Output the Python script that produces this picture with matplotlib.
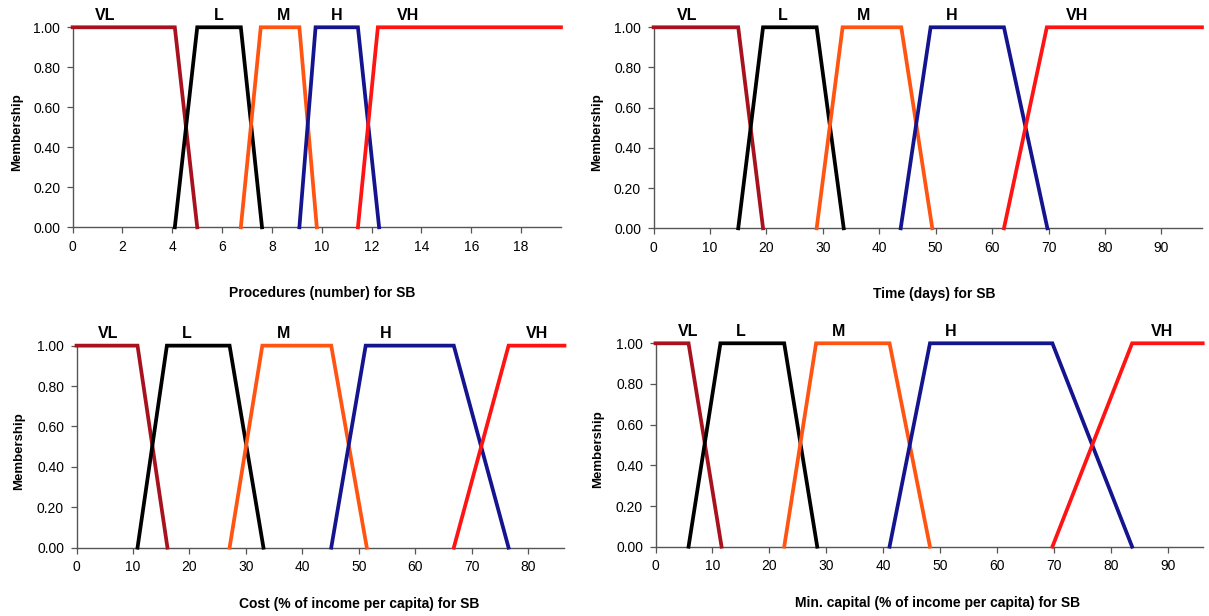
import matplotlib
matplotlib.use("Agg")
import matplotlib.pyplot as plt

plt.rcParams['font.family'] = ['Liberation Sans', 'DejaVu Sans']

categories = ['VL', 'L', 'M', 'H', 'VH']
colors = ['#a8121e', '#000000', '#ff5412', '#14148e', '#ff1414']

# membership levels at the breakpoints of each fuzzy set
mu_left = [1, 1, 0]
mu_mid = [0, 1, 1, 0]
mu_right = [0, 1, 1]

# breakpoints (x values)
proc_points = [[0, 4.1, 5.0], [4.1, 5.0, 6.75, 7.6], [6.75, 7.55, 9.1, 9.8],
               [9.1, 9.75, 11.45, 12.3], [11.45, 12.25, 19.6]]
time_points = [[0, 15, 19.4], [15, 19.4, 28.9, 33.7], [28.9, 33.5, 43.9, 49.4],
               [43.8, 49.1, 62.1, 69.8], [62.1, 69.7, 97.2]]
cost_points = [[0, 10.8, 16.1], [10.8, 16.0, 27.1, 33.1], [27.1, 32.9, 45.1, 51.4],
               [45.1, 51.2, 66.8, 76.5], [66.8, 76.5, 86.4]]
cap_points = [[0, 5.8, 11.6], [5.8, 11.4, 22.6, 28.4], [22.6, 28.2, 41.1, 48.2],
              [41.1, 48.2, 69.7, 83.7], [69.7, 83.7, 96.1]]

proc_ticks = list(range(0, 19, 2))
time_ticks = list(range(0, 91, 10))
cost_ticks = list(range(0, 81, 10))
cap_ticks = list(range(0, 91, 10))

# where the set names sit above each plateau
proc_lbl = [1.3, 5.85, 8.45, 10.6, 13.45]
time_lbl = [6.0, 22.9, 37.3, 52.8, 75.1]
cost_lbl = [5.6, 19.5, 36.7, 54.7, 81.6]
cap_lbl = [5.8, 15.0, 32.1, 51.8, 88.9]

fig = plt.figure(figsize=(12.09, 6.16), dpi=100)

panels = [
    ([0.0601, 0.631, 0.4039, 0.3247], proc_points, proc_ticks, proc_lbl, 19.6,
     'Procedures (number) for SB', (0.512, -0.293), -0.102),
    ([0.5406, 0.6294, 0.4536, 0.3263], time_points, time_ticks, time_lbl, 97.2,
     'Time (days) for SB', (0.511, -0.294), -0.092),
    ([0.0633, 0.1109, 0.4036, 0.3280], cost_points, cost_ticks, cost_lbl, 86.4,
     'Cost (% of income per capita) for SB', (0.579, -0.244), -0.106),
    ([0.5422, 0.1125, 0.4526, 0.3302], cap_points, cap_ticks, cap_lbl, 96.1,
     'Min. capital (% of income per capita) for SB', (0.515, -0.242), -0.094),
]

for rect, points, ticks, lbl_x, xmax, xlabel, xl_pos, yl_x in panels:
    ax = fig.add_axes(rect)
    for i, name in enumerate(categories):
        if i == 0:
            mu = mu_left
        elif i == len(categories) - 1:
            mu = mu_right
        else:
            mu = mu_mid
        ax.plot(points[i], mu, color=colors[i], lw=2.7, clip_on=False,
                solid_joinstyle='miter', zorder=3)
        ax.text(lbl_x[i], 1.06, name, ha='center', va='center',
                fontsize=11.5, fontweight='bold')
    ax.set_xlim(0, xmax)
    ax.set_ylim(0, 1)
    ax.set_xticks(ticks)
    ax.set_yticks([0, 0.2, 0.4, 0.6, 0.8, 1.0])
    ax.set_yticklabels(['%.2f' % v for v in [0, 0.2, 0.4, 0.6, 0.8, 1.0]])
    ax.tick_params(labelsize=10, length=4, width=0.9, color='#555555', pad=5)
    for s in ['top', 'right']:
        ax.spines[s].set_visible(False)
    for s in ['left', 'bottom']:
        ax.spines[s].set_color('#555555')
        ax.spines[s].set_linewidth(1.0)
    ax.set_xlabel(xlabel, fontsize=10, fontweight='bold')
    ax.xaxis.set_label_coords(*xl_pos)
    ax.set_ylabel('Membership', fontsize=9.5, fontweight='bold')
    ax.yaxis.set_label_coords(yl_x, 0.478)

fig.savefig('out.png', dpi=100)
